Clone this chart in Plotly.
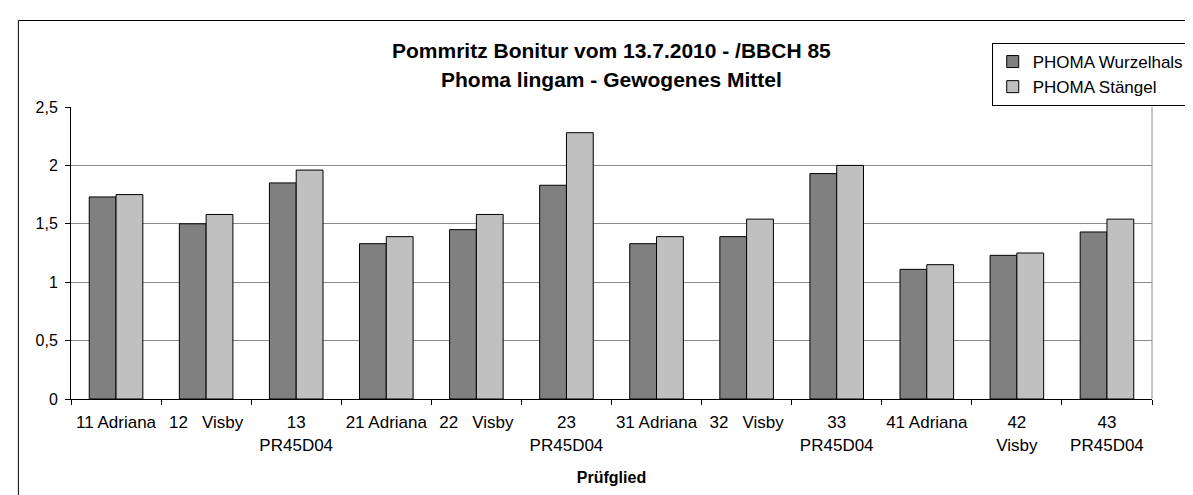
import plotly.graph_objects as go

categories = ["11 Adriana", "12\u00a0\u00a0\u00a0Visby", "13<br>PR45D04",
              "21 Adriana", "22\u00a0\u00a0\u00a0Visby", "23<br>PR45D04",
              "31 Adriana", "32\u00a0\u00a0\u00a0Visby", "33<br>PR45D04",
              "41 Adriana", "42<br>Visby", "43<br>PR45D04"]
wurzelhals = [1.73, 1.50, 1.85, 1.33, 1.45, 1.83, 1.33, 1.39, 1.93, 1.11, 1.23, 1.43]
staengel = [1.75, 1.58, 1.96, 1.39, 1.58, 2.28, 1.39, 1.54, 2.00, 1.15, 1.25, 1.54]
y_ticks = [0, 0.5, 1, 1.5, 2, 2.5]
title_lines = ["Pommritz Bonitur vom 13.7.2010 - /BBCH 85", "Phoma lingam - Gewogenes Mittel"]

FONT = "Liberation Sans, Arial, sans-serif"

fig = go.Figure()
fig.add_trace(go.Bar(x=categories, y=wurzelhals, name="PHOMA Wurzelhals",
                     marker=dict(color="#808080", line=dict(color="#000000", width=1))))
fig.add_trace(go.Bar(x=categories, y=staengel, name="PHOMA Stängel",
                     marker=dict(color="#C0C0C0", line=dict(color="#000000", width=1))))

L, R, T, B = 63, 41, 99, 104
W, H = 1193, 495
pw, ph = W - L - R, H - T - B

def px_x(px):
    return (px - L) / pw

def px_y(py):
    return (H - B - py) / ph

fig.update_layout(
    width=W, height=H,
    margin=dict(l=L, r=R, t=T, b=B),
    paper_bgcolor="white", plot_bgcolor="white",
    separators=",.",
    barmode="group", bargap=0.405, bargroupgap=0,
    font=dict(family=FONT, size=16, color="#000000"),
    legend=dict(x=px_x(1189), y=px_y(66.5), xanchor="right", yanchor="middle",
                bordercolor="#000000", borderwidth=1, bgcolor="white",
                font=dict(family=FONT, size=17, color="#000000"),
                itemwidth=30),
    xaxis=dict(type="category", tickson="boundaries", ticks="outside", ticklen=5,
               tickcolor="#000000", showline=True, linecolor="#000000", linewidth=1,
               mirror=False, showgrid=False, ticklabelstandoff=8, tickangle=0,
               automargin=False,
               tickfont=dict(family=FONT, size=17, color="#000000"),
               title=dict(text="<b>Prüfglied</b>", font=dict(family=FONT, size=16, color="#000000"),
                          standoff=18)),
    yaxis=dict(range=[0, 2.5], tickvals=y_ticks, ticks="outside", ticklen=5,
               tickcolor="#000000", showline=True, linecolor="#000000", linewidth=1,
               showgrid=True, gridcolor="#8c8c8c", gridwidth=1, zeroline=False,
               ticklabelstandoff=4, automargin=False,
               tickfont=dict(family=FONT, size=16, color="#000000")),
)

for text, ypx in zip(title_lines, [42, 72]):
    fig.add_annotation(text="<b>" + text + "</b>", xref="paper", yref="paper",
                       x=px_x(608), y=px_y(ypx), xanchor="center", yanchor="middle",
                       showarrow=False, font=dict(family=FONT, size=21, color="#000000"))

# plot area right border (gray)
fig.add_shape(type="line", xref="paper", yref="paper", x0=1, x1=1, y0=0, y1=1,
              line=dict(color="#8c8c8c", width=1))
# outer chart frame
fig.add_shape(type="rect", xref="paper", yref="paper",
              x0=px_x(10), x1=px_x(1250), y0=px_y(560), y1=px_y(12.5),
              line=dict(color="#000000", width=1), layer="below")

fig.write_html("out.html")
